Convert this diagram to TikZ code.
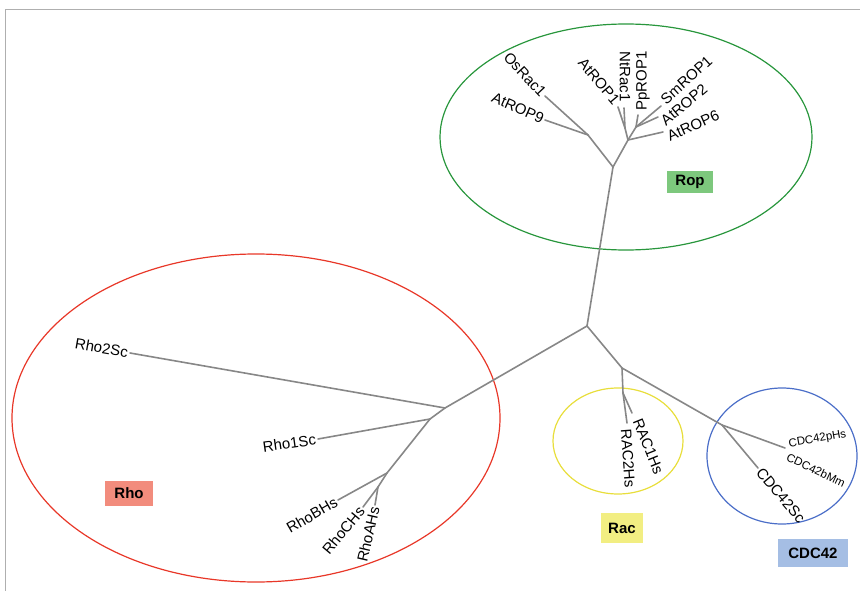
\documentclass[tikz,border=0pt]{standalone}
\usepackage{fontspec}
\setmainfont{Liberation Sans}
\begin{document}
\begin{tikzpicture}[x=1pt,y=-1pt,
  branch/.style={draw={rgb,255:red,135;green,135;blue,135}, line width=1.6pt, line cap=round, line join=round},
  leaf/.style={font=\fontsize{15}{15}\selectfont, inner sep=2pt},
  smallleaf/.style={font=\fontsize{11.5}{11.5}\selectfont, inner sep=2pt},
  clade/.style={line width=1.2pt},
  tag/.style={font=\fontsize{15}{15}\selectfont\bfseries, inner sep=0pt, minimum width=#1}
]
\definecolor{frame}{RGB}{175,175,175}
\definecolor{ropc}{RGB}{40,150,60}
\definecolor{rhoc}{RGB}{232,55,40}
\definecolor{racc}{RGB}{232,222,60}
\definecolor{cdcc}{RGB}{75,110,200}
\definecolor{ropf}{RGB}{125,200,125}
\definecolor{rhof}{RGB}{242,140,125}
\definecolor{racf}{RGB}{242,238,130}
\definecolor{cdcf}{RGB}{165,190,228}
\useasboundingbox (0,0) rectangle (860,591);
% frame
\draw[frame, line width=1pt] (5,591) -- (5,10) -- (860,10);
% clade ellipses
\draw[clade, ropc] (626,137) ellipse [x radius=186pt, y radius=113pt];
\draw[clade, rhoc] (256,418) ellipse [x radius=244pt, y radius=164pt];
\draw[clade, racc] (618,441) ellipse [x radius=65pt, y radius=53pt];
\draw[clade, cdcc] (782,456) ellipse [x radius=75pt, y radius=68pt];
% tree coordinates
\coordinate (root) at (587,326);
\coordinate (nrop) at (613,167);
\coordinate (na) at (588,135);
\coordinate (eOs) at (545,96);
\coordinate (e9) at (545,120);
\coordinate (nb) at (628,140);
\coordinate (e6) at (663,132);
\coordinate (nc) at (625,128);
\coordinate (e1) at (618,107);
\coordinate (eNt) at (624,108);
\coordinate (nd) at (636,127);
\coordinate (ePp) at (638,115);
\coordinate (eSm) at (661,106);
\coordinate (e2) at (658,117);
\coordinate (nrho) at (445,408);
\coordinate (eR2) at (130,353);
\coordinate (nr1) at (430,419);
\coordinate (eR1) at (318,439);
\coordinate (nr2) at (387,473);
\coordinate (eRB) at (338,500);
\coordinate (nr3) at (378,487);
\coordinate (eRC) at (363,507);
\coordinate (eRA) at (375,505);
\coordinate (nrc) at (622,368);
\coordinate (nrac) at (623,393);
\coordinate (eRac1) at (632,413);
\coordinate (eRac2) at (627,423);
\coordinate (ncdc) at (722,425);
\coordinate (eSc) at (758,468);
\coordinate (eHs) at (785,448);
% branches
\draw[branch] (root) -- (nrop);
\draw[branch] (nrop) -- (na);
\draw[branch] (na) -- (eOs);
\draw[branch] (na) -- (e9);
\draw[branch] (nrop) -- (nb);
\draw[branch] (nb) -- (e6);
\draw[branch] (nb) -- (nc);
\draw[branch] (nc) -- (e1);
\draw[branch] (nc) -- (eNt);
\draw[branch] (nb) -- (nd);
\draw[branch] (nd) -- (ePp);
\draw[branch] (nd) -- (eSm);
\draw[branch] (nd) -- (e2);
\draw[branch] (root) -- (nrho);
\draw[branch] (nrho) -- (eR2);
\draw[branch] (nrho) -- (nr1);
\draw[branch] (nr1) -- (eR1);
\draw[branch] (nr1) -- (nr2);
\draw[branch] (nr2) -- (eRB);
\draw[branch] (nr2) -- (nr3);
\draw[branch] (nr3) -- (eRC);
\draw[branch] (nr3) -- (eRA);
\draw[branch] (root) -- (nrc);
\draw[branch] (nrc) -- (nrac);
\draw[branch] (nrac) -- (eRac1);
\draw[branch] (nrac) -- (eRac2);
\draw[branch] (nrc) -- (ncdc);
\draw[branch] (ncdc) -- (eSc);
\draw[branch] (ncdc) -- (eHs);
% leaf labels (yshift is upward on the page)
\node[leaf, rotate=-47, anchor=east] (lOs) at (eOs) {OsRac1};
\node[leaf, rotate=-24, anchor=east] (l9) at (e9) {AtROP9};
\node[leaf, rotate=-50, anchor=east] (l1) at ([yshift=3pt]e1) {AtROP1};
\node[leaf, rotate=-90, anchor=east, inner sep=1pt] (lNt) at ([xshift=1pt,yshift=5pt]eNt) {NtRac1};
\node[leaf, rotate=90, anchor=west, inner sep=1pt] (lPp) at ([xshift=5pt,yshift=3pt]ePp) {PpROP1};
\node[leaf, rotate=42, anchor=west, inner sep=1pt] (lSm) at ([xshift=1pt,yshift=4pt]eSm) {SmROP1};
\node[leaf, rotate=40, anchor=west, inner sep=1pt] (l2) at ([xshift=4pt,yshift=-6pt]e2) {AtROP2};
\node[leaf, rotate=24, anchor=west, inner sep=1pt] (l6) at ([xshift=4pt,yshift=-5pt]e6) {AtROP6};
\node[leaf, rotate=-10, anchor=east] (lR2) at (eR2) {Rho2Sc};
\node[leaf, rotate=8, anchor=east] (lR1) at (eR1) {Rho1Sc};
\node[leaf, rotate=30, anchor=east] (lRB) at (eRB) {RhoBHs};
\node[leaf, rotate=50, anchor=east] (lRC) at (eRC) {RhoCHs};
\node[leaf, rotate=77, anchor=east] (lRA) at (eRA) {RhoAHs};
\node[leaf, rotate=-68, anchor=west, inner sep=1pt] (lRac1) at ([xshift=5pt,yshift=-5pt]eRac1) {RAC1Hs};
\node[leaf, rotate=-86, anchor=west, inner sep=1pt] (lRac2) at ([xshift=-1pt,yshift=-5pt]eRac2) {RAC2Hs};
\node[leaf, rotate=-50, anchor=west] (lSc) at (eSc) {CDC42Sc};
\node[smallleaf, rotate=10, anchor=south west] (lpHs) at ([xshift=3pt,yshift=-4pt]eHs) {CDC42pHs};
\node[smallleaf, rotate=-25, anchor=north west] (lbMm) at ([xshift=3pt,yshift=-2pt]eHs) {CDC42bMm};
% clade tags
\node[tag=46pt, fill=ropf, minimum height=22pt] (tRop) at (690,182) {Rop};
\node[tag=48pt, fill=rhof, minimum height=25pt] (tRho) at (129,493) {Rho};
\node[tag=42pt, fill=racf, minimum height=30pt] (tRac) at (622,528) {Rac};
\node[tag=70pt, fill=cdcf, minimum height=28pt] (tCdc) at (813,553) {CDC42};
\end{tikzpicture}
\end{document}
